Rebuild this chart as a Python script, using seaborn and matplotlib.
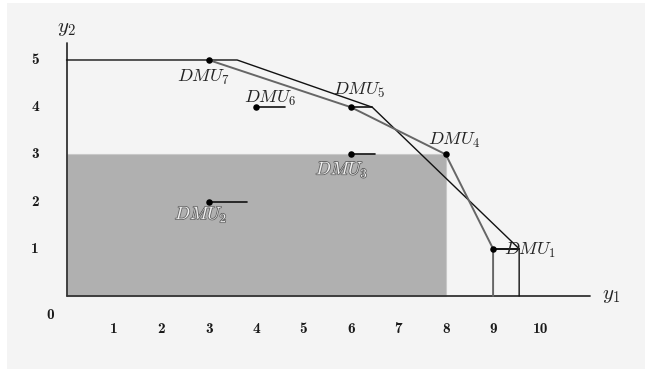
import matplotlib
matplotlib.use("Agg")
import matplotlib.pyplot as plt
import matplotlib.patheffects as pe
from matplotlib.patches import Rectangle
import seaborn as sns
import pandas as pd

# ---- data ----
dmu_names = ["DMU_1", "DMU_2", "DMU_3", "DMU_4", "DMU_5", "DMU_6", "DMU_7"]
dmu_x = [9, 3, 6, 8, 6, 4, 3]
dmu_y = [1, 2, 3, 3, 4, 4, 5]
# short horizontal segments to the right of some DMUs (end x)
seg_end_x = [9.55, 3.8, 6.5, None, 6.45, 4.6, None]

# frontier drawn in black (outer)
outer_x = [0, 3.6, 6.45, 9.55, 9.55]
outer_y = [5, 5, 4, 1, 0]
# frontier drawn in gray (through DMUs)
inner_x = [3, 6, 8, 9, 9]
inner_y = [5, 4, 3, 1, 0]

# shaded dominated region of DMU_4
shade_x, shade_y = 8, 3

x_ticks = [1, 2, 3, 4, 5, 6, 7, 8, 9, 10]
y_ticks = [1, 2, 3, 4, 5]

# label positions (absolute, data units) and alignment
lab_x = [9.22, 2.84, 5.81, 8.18, 6.17, 4.29, 2.88]
lab_y = [0.96, 1.72, 2.67, 3.3, 4.36, 4.19, 4.62]
lab_ha = ["left", "center", "center", "center", "center", "center", "center"]

sns.set_theme(style="white")
plt.rcParams["mathtext.fontset"] = "cm"
plt.rcParams["font.family"] = ["DejaVu Serif"]

fig = plt.figure(figsize=(6.45, 3.69), dpi=100, facecolor="white")
ax = fig.add_axes([0, 0, 1, 1])
ax.set_facecolor("none")
ax.set_xlim(-1.403, 12.205)
ax.set_ylim(-1.547, 6.271)
ax.axis("off")
ax.add_patch(Rectangle((7 / 645, 0), 1, (369 - 3) / 369, transform=ax.transAxes,
                       facecolor="#f4f4f4", edgecolor="none", zorder=0))

# shaded rectangle
ax.add_patch(Rectangle((0, 0), shade_x, shade_y, facecolor="#b0b0b0",
                       edgecolor="#c8c8c8", linewidth=0.8, zorder=1))

# axes lines
ax.plot([0, 11.05], [0, 0], color="#333333", lw=1.3, zorder=2)
ax.plot([0, 0], [0, 5.36], color="#333333", lw=1.3, zorder=2)

# frontiers
sns.lineplot(x=outer_x, y=outer_y, sort=False, estimator=None, color="#111111",
             lw=1.0, ax=ax, zorder=3)
sns.lineplot(x=inner_x, y=inner_y, sort=False, estimator=None, color="#666666",
             lw=1.4, ax=ax, zorder=3)
ax.plot([9, 9.55], [1, 1], color="#111111", lw=1.2, zorder=3)

# short segments
for x0, y0, xe in zip(dmu_x, dmu_y, seg_end_x):
    if xe is not None:
        ax.plot([x0, xe], [y0, y0], color="#111111", lw=1.2, zorder=3)

df = pd.DataFrame({"x": dmu_x, "y": dmu_y, "name": dmu_names})
sns.scatterplot(data=df, x="x", y="y", color="black", s=22, edgecolor="black",
                linewidth=0, ax=ax, zorder=4, legend=False)

# labels
for i, name in enumerate(dmu_names):
    if name in ("DMU_2", "DMU_3"):
        kw = dict(color="#f0f0f0",
                  path_effects=[pe.withStroke(linewidth=1.2, foreground="#666666")])
    else:
        kw = dict(color="#222222")
    ax.text(lab_x[i], lab_y[i], f"${name}$", ha=lab_ha[i], va="center",
            fontsize=13, zorder=5, **kw)

# tick labels
tk = dict(ha="center", va="center", fontsize=11, color="#1a1a1a", family="cmb10")
for t in x_ticks:
    ax.text(t, -0.7, str(t), **tk)
for t in y_ticks:
    ax.text(-0.66, t, str(t), **tk)
ax.text(-0.35, -0.4, "0", **tk)

# axis labels
ax.text(0.0, 5.66, "$y_2$", ha="center", va="center", fontsize=15, color="#222222")
ax.text(11.5, 0.0, "$y_1$", ha="center", va="center", fontsize=15, color="#222222")

fig.savefig("out.png", dpi=100, facecolor=fig.get_facecolor())
